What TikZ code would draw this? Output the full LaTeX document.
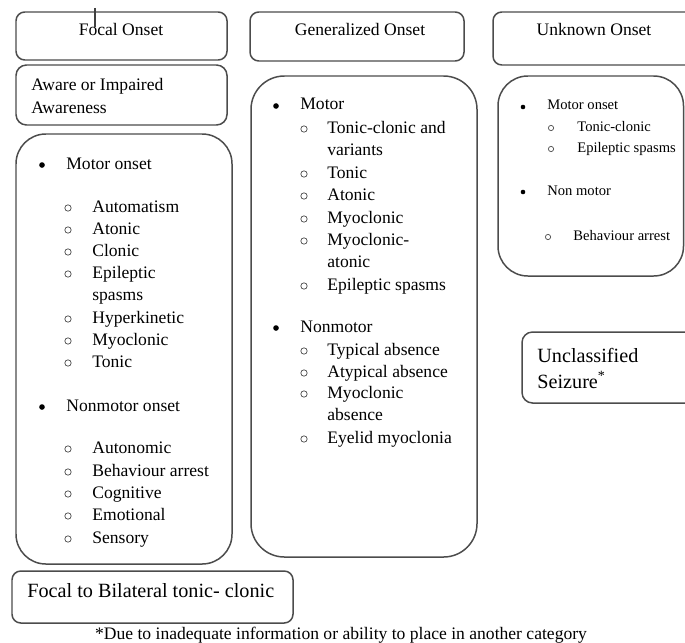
\documentclass[tikz,border=0pt]{standalone}
\usepackage{fontspec}
\setmainfont{Liberation Serif}
\usetikzlibrary{positioning}

\tikzset{
  frame/.style={draw=black!70, line width=0.85pt},
  head/.style={anchor=base, inner sep=0pt, font=\fontsize{10}{12}\selectfont},
  entry/.style={anchor=base west, inner sep=0pt, font=\fontsize{10}{12}\selectfont},
  smallentry/.style={anchor=base west, inner sep=0pt, font=\fontsize{8.3}{10}\selectfont},
  bigentry/.style={anchor=base west, inner sep=0pt, font=\fontsize{11.5}{14}\selectfont},
  dot/.style={circle, fill=black, inner sep=0pt, minimum size=3.2pt},
  ring/.style={circle, draw=black!65, line width=0.45pt, inner sep=0pt, minimum size=3.6pt},
}

\begin{document}
\begin{tikzpicture}[x=0.02cm, y=-0.02cm, text=black]
\clip (0,0) rectangle (685,642);

% top row
\draw[frame, rounded corners=5pt] (16,12) rectangle (227,60);
\draw[frame, rounded corners=5pt] (250,12) rectangle (464,61);
\draw[frame, rounded corners=5pt] (493,12) rectangle (697,65);
\node[head] (focal) at (121,36) {Focal Onset};
\node[head] (gen) at (360,36) {Generalized Onset};
\node[head] (unknown) at (594,36) {Unknown Onset};
\draw[black!75, line width=0.6pt] (95,8) -- (95,27);

% focal column
\draw[frame, rounded corners=6pt] (16,65) rectangle (227,125);
\node[entry] (aware) at (31,91) {Aware or Impaired};
\node[entry] (aware2) at (31,113) {Awareness};

\draw[frame, rounded corners=17pt] (16,134) rectangle (232,564);
\node[dot] (fd1) at (42,165) {};
\node[entry] (fmotor) at (66,169) {Motor onset};
\foreach \y/\t [count=\i] in {212/Automatism, 234/Atonic, 256/Clonic, 278/Epileptic,
    323/Hyperkinetic, 345/Myoclonic, 367/Tonic} {
  \node[ring] (fr\i) at (68,\y-4) {};
  \node[entry] (fm\i) at (92,\y) {\t};
}
\node[entry] (fm4b) at (92,300) {spasms};
\node[dot] (fd2) at (42,407) {};
\node[entry] (fnon) at (66,411) {Nonmotor onset};
\foreach \y/\t [count=\i] in {453/Autonomic, 476/Behaviour arrest, 498/Cognitive,
    520/Emotional, 543/Sensory} {
  \node[ring] (fq\i) at (68,\y-4) {};
  \node[entry] (fn\i) at (92,\y) {\t};
}

\draw[frame, rounded corners=5pt] (12,571) rectangle (293,623);
\node[bigentry] (bilat) at (27,597) {Focal to Bilateral tonic- clonic};

% generalized column
\draw[frame, rounded corners=19pt] (251,76) rectangle (477,557);
\node[dot] (gd1) at (276,106) {};
\node[entry] (gmotor) at (300,110) {Motor};
\foreach \y/\t [count=\i] in {133/Tonic-clonic and, 178/Tonic, 200/Atonic, 223/Myoclonic,
    245/Myoclonic-, 290/Epileptic spasms} {
  \node[ring] (gr\i) at (304,\y-4) {};
  \node[entry] (gm\i) at (327,\y) {\t};
}
\node[entry] (gm1b) at (327,155) {variants};
\node[entry] (gm5b) at (327,267) {atonic};
\node[dot] (gd2) at (276,328) {};
\node[entry] (gnon) at (300,332) {Nonmotor};
\foreach \y/\t [count=\i] in {355/Typical absence, 377/Atypical absence, 398/Myoclonic,
    443/Eyelid myoclonia} {
  \node[ring] (gq\i) at (304,\y-4) {};
  \node[entry] (gn\i) at (327,\y) {\t};
}
\node[entry] (gn3b) at (327,420) {absence};

% unknown column
\draw[frame, rounded corners=17pt] (498,76) rectangle (683.5,276);
\node[dot, minimum size=2.6pt] (ud1) at (523,107) {};
\node[smallentry] (umotor) at (547,110) {Motor onset};
\node[ring, minimum size=3pt] (ur1) at (551,128) {};
\node[smallentry] (um1) at (577,131) {Tonic-clonic};
\node[ring, minimum size=3pt] (ur2) at (551,149) {};
\node[smallentry] (um2) at (577,152) {Epileptic spasms};
\node[dot, minimum size=2.6pt] (ud2) at (523,192) {};
\node[smallentry] (unon) at (547,195) {Non motor};
\node[ring, minimum size=3pt] (ur3) at (548,237) {};
\node[smallentry] (un1) at (573,240) {Behaviour arrest};

\draw[frame, rounded corners=6pt] (522,332) rectangle (705,403);
\node[bigentry] (uncl) at (537,362) {Unclassified};
\node[bigentry] (uncl2) at (537,388) {Seizure\textsuperscript{*}};

% footnote
\node[head] (note) at (341,639) {*Due to inadequate information or ability to place in another category};
\end{tikzpicture}
\end{document}
